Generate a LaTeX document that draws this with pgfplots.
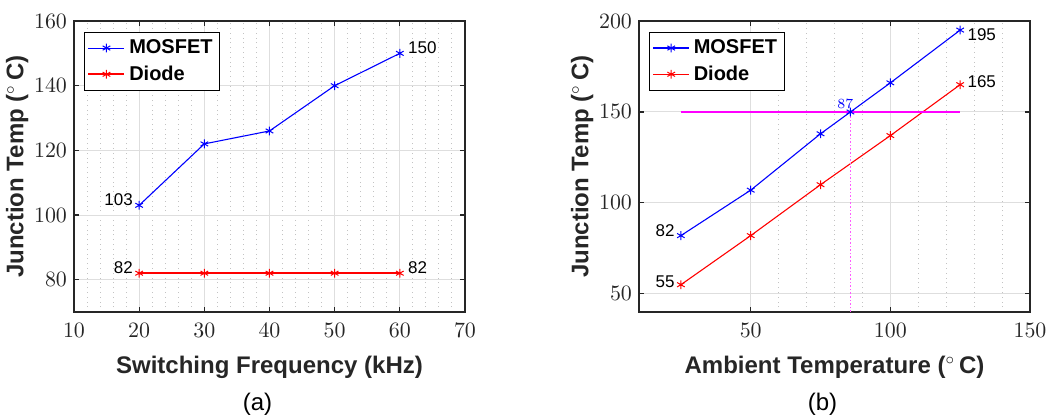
\documentclass[border=0pt]{standalone}
\usepackage{pgfplots}
\pgfplotsset{compat=1.18}
\usepackage{fontspec}
\setmainfont{Liberation Sans}
\definecolor{axgray}{RGB}{38,38,38}
\definecolor{gridmaj}{RGB}{222,222,222}
\definecolor{gridmin}{RGB}{195,195,195}
\definecolor{mag}{RGB}{255,0,255}
\definecolor{magdot}{RGB}{255,90,255}
\definecolor{pblue}{RGB}{0,0,255}
\definecolor{pred}{RGB}{255,0,0}
\tikzset{
  dl/.style={font=\fontsize{8.5}{10}\selectfont, inner sep=0pt, text=black},
}
\pgfplotsset{
  myaxis/.style={
    scale only axis, width=195.5pt, height=145.5pt,
    clip=false,
    axis line style={axgray, line width=0.6pt},
    tick style={axgray, line width=0.6pt},
    major tick length=2.5pt, minor tick length=0pt,
    tick align=inside,
    ticklabel style={font=\fontsize{10.5}{12}\selectfont, text=axgray},
    xticklabel style={yshift=-2.2pt},
    label style={font=\fontsize{12}{14}\selectfont\bfseries, text=axgray},
    xlabel style={yshift=-2.5pt},
    ylabel style={yshift=-4pt},
    xmajorgrids, ymajorgrids, xminorgrids,
    minor x tick num=4,
    major grid style={gridmaj, line width=0.5pt},
    minor grid style={gridmin, dotted, line width=0.5pt},
    legend style={at={(0.026,0.962)}, anchor=north west,
      font=\fontsize{10}{12}\selectfont\bfseries, draw=black,
      line width=0.5pt, inner sep=1.5pt, row sep=0.5pt},
    legend cell align=left,
    legend image code/.code={\draw[mark repeat=2,mark phase=2] plot coordinates {(0pt,0pt) (9pt,0pt) (18pt,0pt)};},
    ylabel={Junction Temp (${}^{\circ}$\,C)},
  },
  ser/.style={line width=0.55pt, mark=asterisk, mark size=2.2pt, mark options={line width=0.5pt}},
}
\begin{document}
\begin{tikzpicture}
\begin{axis}[myaxis,
  xmin=10, xmax=70, ymin=70, ymax=160,
  xtick={10,20,30,40,50,60,70}, ytick={80,100,120,140,160},
  xlabel={Switching Frequency (kHz)},
]
\addplot[pblue, ser] coordinates {(20,103) (30,122) (40,126) (50,140) (60,150)};
\addlegendentry{MOSFET}
\addplot[pred, ser, line width=0.8pt] coordinates {(20,82) (30,82) (40,82) (50,82) (60,82)};
\addlegendentry{Diode}
\node[dl, anchor=east] at (axis cs:20,103) [xshift=-3pt, yshift=3pt] {103};
\node[dl, anchor=west] at (axis cs:60,150) [xshift=4pt, yshift=3pt] {150};
\node[dl, anchor=east] at (axis cs:20,82) [xshift=-3pt, yshift=3pt] {82};
\node[dl, anchor=west] at (axis cs:60,82) [xshift=4pt, yshift=3pt] {82};
\node[font=\fontsize{12}{14}\selectfont, text=black] at (rel axis cs:0.5,0) [xshift=-6pt, yshift=-46pt] {(a)};
\end{axis}
\begin{axis}[myaxis, at={(282.5pt,0pt)}, anchor=south west,
  xmin=10, xmax=150, ymin=40, ymax=200,
  xtick={50,100,150}, ytick={50,100,150,200},
  xlabel={Ambient Temperature (${}^{\circ}$\,C)},
]
\addplot[pblue, ser] coordinates {(25,82) (50,107) (75,138) (100,166) (125,195)};
\addlegendentry{MOSFET}
\addplot[pred, ser] coordinates {(25,55) (50,82) (75,110) (100,137) (125,165)};
\addlegendentry{Diode}
\addplot[mag, line width=0.7pt, forget plot] coordinates {(25,150) (125,150)};
\addplot[magdot, densely dotted, line width=0.8pt, forget plot] coordinates {(85.7,40) (85.7,150)};
\addplot[pblue, only marks, mark=asterisk, mark size=2.2pt, mark options={line width=0.5pt}, forget plot] coordinates {(85.7,150)};
\node[dl, anchor=east] at (axis cs:25,82) [xshift=-3pt, yshift=2.3pt] {82};
\node[dl, anchor=east] at (axis cs:25,55) [xshift=-3pt, yshift=1.4pt] {55};
\node[dl, anchor=west] at (axis cs:125,195) [xshift=3.5pt, yshift=-2.5pt] {195};
\node[dl, anchor=west] at (axis cs:125,165) [xshift=3.5pt, yshift=1.4pt] {165};
\node[text=pblue, inner sep=0pt, anchor=south, font=\fontsize{7.5}{9}\selectfont] at (axis cs:85.7,150) [xshift=-2.5pt, yshift=1.6pt] {$87$};
\node[font=\fontsize{12}{14}\selectfont, text=black] at (rel axis cs:0.5,0) [xshift=-6pt, yshift=-46pt] {(b)};
\end{axis}
\pgfresetboundingbox
\path[use as bounding box] (-37pt,-53pt) rectangle (488pt,156pt);
\end{tikzpicture}
\end{document}
